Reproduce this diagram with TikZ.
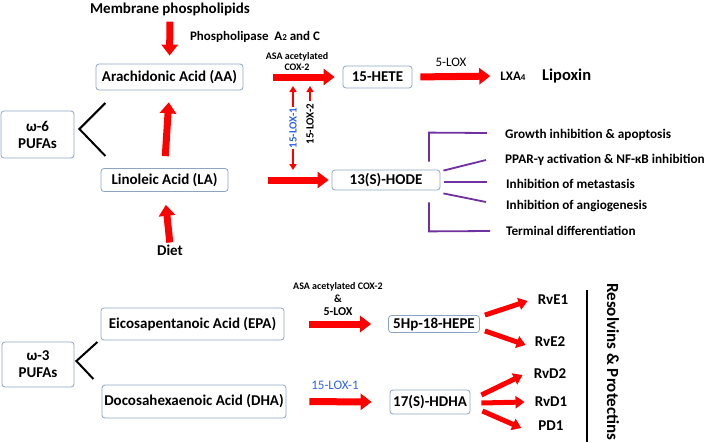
\documentclass[tikz,border=0pt]{standalone}
\usepackage{fontspec}
\setmainfont{Carlito}
\usetikzlibrary{arrows.meta,calc}
\definecolor{boxline}{RGB}{140,165,195}
\definecolor{arrred}{RGB}{255,0,0}
\definecolor{lineviolet}{RGB}{112,48,160}
\definecolor{loxblue}{RGB}{50,100,230}
\newcommand{\fs}[1]{\fontsize{#1}{#1}\selectfont}
\tikzset{
  box/.style={draw=boxline, line width=0.8pt, rounded corners=3pt, inner sep=0pt, align=center, font=\bfseries\fs{15}},
  lbl/.style={inner sep=0pt, font=\bfseries\fs{15}},
  item/.style={inner sep=0pt, anchor=west, font=\bfseries\fs{13.2}},
  bigarrow/.style={draw=arrred, line width=7pt, -{Triangle[length=11pt,width=16pt]}},
  smallarrow/.style={draw=arrred, line width=5pt, -{Triangle[length=9pt,width=12pt]}},
  thinarrow/.style={draw=arrred, line width=2pt, -{Triangle[length=6pt,width=7pt]}},
  vline/.style={draw=lineviolet, line width=1.8pt},
  bline/.style={draw=black, line width=2pt},
}
\begin{document}
\begin{tikzpicture}[x=1pt,y=-1pt]
\useasboundingbox (0,0) rectangle (709,442);
% ---------- omega-6 part ----------
\node[lbl] (mem) at (170,9) {Membrane phospholipids};
\node[lbl, font=\bfseries\fs{13}] (pla) at (255,37) {Phospholipase\ \ A{\fs{9}2} and C};
\node[box, minimum width=147pt, minimum height=26pt] (aa) at (169.5,77) {Arachidonic Acid (AA)};
\node[box, minimum width=127pt, minimum height=23pt] (la) at (164.5,180) {Linoleic Acid (LA)};
\node[box, minimum width=73pt, minimum height=47pt] (w6) at (37.5,134.5) {ω-6\\[2pt]PUFAs};
\node[lbl] (diet) at (170,250) {Diet};

\draw[bigarrow, shorten <=6pt, shorten >=8pt] (mem.south) -- (aa.north);
\draw[bigarrow, shorten <=12pt, shorten >=12pt] (la.north) -- (aa.south);
\draw[bigarrow, shorten <=2pt, shorten >=13pt] (diet.north) -- (la.south);

\draw[bline] ($(w6.east)+(31,-31.5)$) -- ($(w6.east)+(5,-5.5)$) -- ($(w6.east)+(31,21.5)$);

\node[lbl, font=\bfseries\fs{10}, align=center] (asa1) at (297,62) {ASA acetylated\\[1pt]COX-2};
\node[box, minimum width=69pt, minimum height=22pt] (hete) at (377.5,77) {15-HETE};
\draw[bigarrow, shorten <=30pt, shorten >=8pt] (aa.east) -- (hete.west);

\node[lbl, font=\bfseries\fs{13}] (lxa) at (513,76) {LXA{\fs{9}4}};
\node[lbl, font=\bfseries\fs{16.5}, anchor=west] (lipo) at (542,76) {Lipoxin};
\node[lbl, font=\fs{13}] (flox) at (451,62) {5-LOX};
\draw[bigarrow, shorten <=8pt, shorten >=10pt] (hete.east) -- (lxa.west);

\node[box, minimum width=108pt, minimum height=20pt] (hode) at (386,180) {13(S)-HODE};
\draw[bigarrow, shorten <=40pt, shorten >=3pt] (la.east) -- (hode.west);

% 15-LOX arrows
\coordinate (l1t) at (293,86);
\coordinate (l1b) at (293,170);
\draw[thinarrow, {Triangle[length=6pt,width=7pt]}-{Triangle[length=6pt,width=7pt]}] (l1b) -- (l1t)
  node[midway, fill=white, inner sep=1pt, rotate=90, text=loxblue, font=\bfseries\fs{11}] (lox1) {15-LOX-1};
\node[rotate=90, inner sep=1pt, font=\bfseries\fs{11}] (lox2) at (310,124) {15-LOX-2};
\coordinate (l2t) at (310,86);
\draw[thinarrow, shorten <=1pt] (lox2.east) -- (l2t);

% effects of 13(S)-HODE
\node[item] (e1) at (505,135) {Growth\ inhibition\ \&\ apoptosis};
\node[item] (e2) at (505,160) {PPAR-γ activation \& NF-κB inhibition};
\node[item] (e3) at (506,184) {Inhibition\ of\ metastasis};
\node[item] (e4) at (506,206) {Inhibition\ of\ angiogenesis};
\node[item] (e5) at (506,231) {Terminal differentiation};
\draw[vline] ($(hode.north)+(43,-8)$) -- ($(hode.north)+(43,-37)$) -- ($(e1.west)+(-18,-2)$);
\draw[vline] ($(hode.north east)+(3,1)$) -- ($(e2.west)+(-19,0)$);
\draw[vline] ($(hode.east)+(4,2)$) -- ($(e3.west)+(-19,-2)$);
\draw[vline] ($(hode.south east)+(3,3)$) -- ($(e4.west)+(-20,-4)$);
\draw[vline] ($(hode.south)+(43,12)$) -- ($(hode.south)+(43,41)$) -- ($(e5.west)+(-16,0)$);

% ---------- omega-3 part ----------
\node[box, minimum width=183pt, minimum height=32pt] (epa) at (192.5,324) {Eicosapentanoic Acid (EPA)};
\node[box, minimum width=184pt, minimum height=33pt] (dha) at (194,401.5) {Docosahexaenoic Acid (DHA)};
\node[box, minimum width=72pt, minimum height=45pt] (w3) at (38,364.5) {ω-3\\[2pt]PUFAs};
\draw[bline] ($(w3.east)+(23,-22.5)$) -- ($(w3.east)+(2,-3.5)$) -- ($(w3.east)+(19,14.5)$);

\node[lbl, font=\bfseries\fs{10}] (asa2) at (338,287) {ASA acetylated COX-2};
\node[lbl, font=\bfseries\fs{11}] (amp) at (338,299) {\&};
\node[lbl, font=\bfseries\fs{12}] (flox2) at (338,312) {5-LOX};
\node[lbl, font=\fs{13}, text=loxblue] (lox3) at (335,385) {15-LOX-1};

\node[box, minimum width=91pt, minimum height=17pt] (hepe) at (434,324) {5Hp-18-HEPE};
\node[box, minimum width=80pt, minimum height=24pt] (hdha) at (430,402) {17(S)-HDHA};
\draw[bigarrow, shorten <=25pt, shorten >=17pt] (epa.east) -- (hepe.west);
\draw[bigarrow, shorten <=23pt, shorten >=18pt] (dha.east) -- (hdha.west);

\node[lbl] (rve1) at (553,300) {RvE1};
\node[lbl] (rve2) at (550,342) {RvE2};
\node[lbl] (rvd2) at (550,374) {RvD2};
\node[lbl] (rvd1) at (551,402) {RvD1};
\node[lbl] (pd1) at (551,426) {PD1};
\draw[smallarrow] ($(hepe.north east)+(5,0)$) -- ($(rve1.west)+(-10,1)$);
\draw[smallarrow] ($(hepe.south east)+(5,-2)$) -- ($(rve2.west)+(-9,3)$);
\draw[smallarrow] ($(hdha.east)+(11,-7)$) -- ($(rvd2.west)+(-11,1)$);
\draw[smallarrow] ($(hdha.east)+(11,1)$) -- ($(rvd1.west)+(-10,0)$);
\draw[smallarrow] ($(hdha.east)+(12,9)$) -- ($(pd1.west)+(-17,2)$);

\coordinate (vt) at (587,290);
\coordinate (vb) at (587,442);
\draw[bline, line width=2.5pt] (vt) -- (vb);
\node[lbl, font=\bfseries\fs{17}, rotate=-90, anchor=west] (res) at (613,283) {Resolvins \& Protectins};
\end{tikzpicture}
\end{document}
